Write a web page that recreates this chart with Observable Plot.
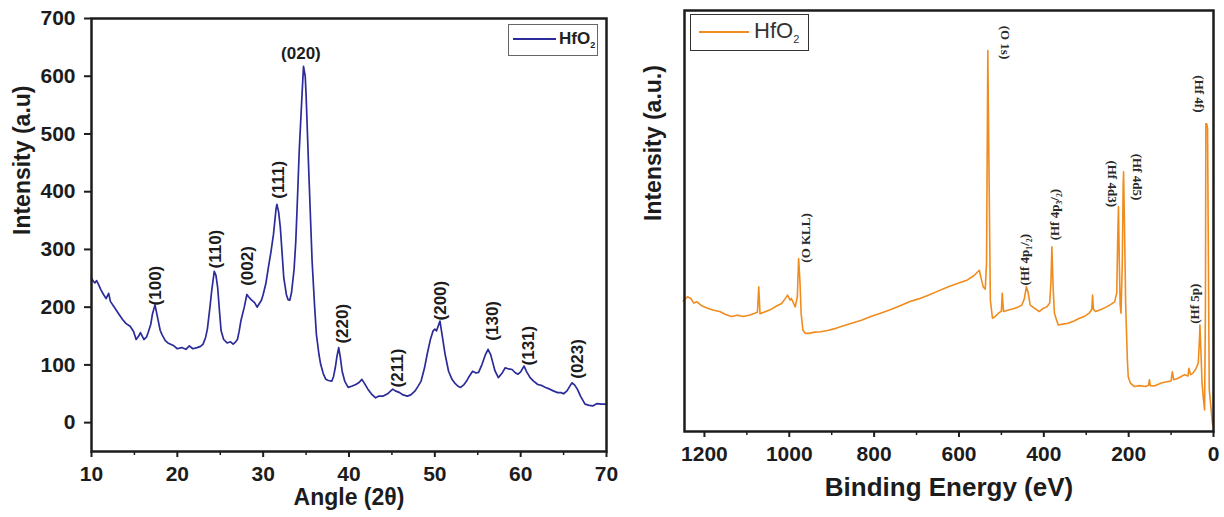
<!DOCTYPE html>
<html><head><meta charset="utf-8">
<script src="https://cdn.jsdelivr.net/npm/d3@7"></script>
<script src="https://cdn.jsdelivr.net/npm/@observablehq/plot@0.6"></script>
<style>
body{margin:0;background:#fff;}
#wrap{position:relative;width:1224px;height:517px;overflow:hidden;font-family:"Liberation Sans",Arial,sans-serif;}
.panel{position:absolute;top:0;width:612px;height:517px;}
.legend{position:absolute;box-sizing:border-box;background:#fff;color:#222;}
.legend .ln{position:absolute;height:2px;}
.legend .lt{position:absolute;white-space:nowrap;}
g[aria-label="x-axis tick label"] text, g[aria-label="y-axis tick label"] text{font-weight:bold;}
</style></head>
<body>
<div id="wrap">
  <div class="panel" id="left" style="left:0"></div>
  <div class="panel" id="right" style="left:612px"></div>
  <div class="legend" style="left:508px;top:24px;width:90px;height:32px;border:1px solid #666;">
    <div class="ln" style="left:4px;top:13px;width:43px;background:#2b2b9a;"></div>
    <div class="lt" style="left:50px;top:4px;font-size:17px;font-weight:bold;">HfO<sub style="font-size:9px">2</sub></div>
  </div>
  <div class="legend" style="left:690px;top:14px;width:119px;height:37px;border:1.5px solid #333;">
    <div class="ln" style="left:8px;top:16px;width:50px;background:#f08c1e;"></div>
    <div class="lt" style="left:63px;top:3px;font-size:22px;color:#333;">HfO<sub style="font-size:11px">2</sub></div>
  </div>
</div>
<script>
// ---------- XRD (left) ----------
const xrdAngle = [10,10.2,10.4,10.6,10.8,11.1,11.4,11.7,12.0,12.2,12.7,13.1,13.6,14.0,14.5,14.9,15.2,15.5,15.7,16.1,16.4,16.6,16.9,17.1,17.4,17.7,18.0,18.2,18.6,18.9,19.6,20.0,20.5,21.0,21.4,21.8,22.3,22.7,23.0,23.3,23.5,23.8,24.0,24.3,24.5,24.7,24.9,25.1,25.4,25.8,26.2,26.5,26.8,27.0,27.2,27.4,27.8,28.1,28.3,28.6,29.0,29.3,29.5,29.8,30.0,30.3,30.6,30.9,31.2,31.5,31.6,31.8,32.0,32.2,32.4,32.7,32.9,33.1,33.3,33.6,33.8,34.0,34.2,34.5,34.7,34.9,35.0,35.3,35.5,35.7,36.0,36.2,36.5,36.7,37.0,37.3,37.6,38.0,38.2,38.4,38.6,38.8,39.0,39.2,39.5,39.9,40.3,40.8,41.2,41.5,41.8,42.2,42.6,43.1,43.5,44.0,44.5,44.8,45.1,45.4,45.9,46.3,46.8,47.2,47.7,48.0,48.4,48.8,49.1,49.5,49.8,50.0,50.2,50.6,50.9,51.2,51.6,52.0,52.3,52.7,53.0,53.4,53.7,54.0,54.4,54.8,55.1,55.5,55.9,56.2,56.5,56.7,57.0,57.4,57.8,58.2,58.6,59.0,59.4,59.7,60.0,60.4,60.7,61.1,61.5,62.0,62.5,62.9,63.4,63.8,64.3,64.7,65.0,65.4,65.8,66.0,66.3,66.6,67.0,67.5,68.0,68.4,68.9,69.4,70.0];
const xrdIntensity = [250,245,242,246,240,230,222,215,224,210,199,190,179,172,167,158,144,150,156,144,148,156,170,188,204,182,160,153,142,138,133,128,130,127,133,128,130,132,136,148,162,200,228,262,255,234,195,159,144,138,140,136,140,144,158,176,200,222,218,213,208,200,205,212,222,240,268,295,326,370,378,365,338,295,251,222,213,212,225,265,314,390,470,560,617,600,568,441,360,280,200,153,118,101,85,75,73,72,80,95,115,130,112,89,72,61,63,66,70,75,68,58,50,43,46,46,50,54,58,55,52,48,46,48,55,62,72,95,118,145,159,162,159,176,147,118,89,75,69,63,61,66,72,80,89,86,87,101,118,127,118,107,90,78,85,95,93,92,86,84,88,98,88,78,72,66,64,61,58,55,52,52,50,55,65,69,65,58,45,32,30,29,33,32,32];
const xrdPeakText  = ["(100)","(110)","(002)","(111)","(220)","(211)","(200)","(130)","(131)","(023)"];
const xrdPeakAngle = [17.5,24.45,28.2,31.8,39.2,45.6,50.7,56.7,60.9,66.6];
const xrdPeakLabelY = [203,267,237,388,137,61,177,142,99,76];
const xrdTopText = ["(020)"];
const xrdTopAngle = [34.4];
const xrdTopY = [639];
const xrdXTicks = [10,20,30,40,50,60,70];
const xrdXMinor = [15,25,35,45,55,65];
const xrdYTicks = [0,100,200,300,400,500,600,700];

// ---------- XPS (right) ----------
const xpsEnergy = [1250,1240,1232,1225,1218,1205,1191,1178,1164,1150,1136,1122,1109,1095,1081,1075,1072,1069,1060,1045,1030,1018,1010,1004,998,995,990,986,981,978,975,972,968,962,954,940,926,910,890,870,853,830,808,785,762,740,717,695,671,648,625,602,580,565,552,548,543,538,535,532,529,526,521,515,507,500,498,495,485,470,460,452,446,441,437,432,425,418,411,402,393,386,383,381,378,375,370,366,355,343,330,316,305,293,287,285,283,278,265,252,242,233,228,226,224,222,220,218,215,213,212,210,207,205,203,201,196,187,175,160,153,151,149,140,130,123,110,100,97,94,85,77,68,60,58,54,49,42,36,33,32,30,27,24,21,19,18,16,14,12,10,7,4,2.5,0];
const xpsIntensity = [31,32,31.6,30.5,30.8,29.8,29.2,28.8,28.5,27.8,27.3,27.6,27.3,27.6,28.1,28.4,34.4,28,28.3,28.9,29.8,30.4,31.5,32.4,31.2,31.6,30.5,29.6,32,41.1,36,28,24.1,23.3,23.3,23.6,23.7,24,24.5,25.2,25.7,26.4,27.3,28.1,28.9,29.8,30.8,31.5,32.4,33.4,34.4,35.2,36,37,38.3,36.5,34.4,33.8,40,90.5,60,31.2,26.9,27.3,28.1,28.6,32.8,28.5,28.8,29.2,29.6,30,31.5,34.4,33,30,29.5,29,28.5,29.2,29.6,30.5,36,43.9,34,28.1,26.5,25.3,25.5,25.7,26.2,26.9,27.3,28.1,29,32.4,29,28.5,29,29.6,30.2,30.8,33,45,53.4,40,30,28.1,40,58,61.7,50,30,23.3,17,13,11.5,10.7,10.9,10.7,11,12.3,10.9,10.8,11.2,11.5,11.8,12,14.2,12.3,12.6,13,13.5,13.2,15,13.5,13.8,14.8,16.2,22,25.3,20,11.5,8,5.1,30,73.1,73.1,72,40,10,6.7,3.5,2,1.2];
const xpsDownText = ["(O 1s)","(Hf 4f)","(Hf 4d3)","(Hf 4d5)"];
const xpsDownE = [492,33,240,179];
const xpsDownY = [96.4,84.6,64.4,66];
const xpsUpText = ["(O KLL)","(Hf 4p\u2081/\u2082)","(Hf 4p\u2083/\u2082)","(Hf 5p)"];
const xpsUpE = [962,445,374,45];
const xpsUpY = [40.1,34.7,45.4,25.6];
const xpsXTicks = [1200,1000,800,600,400,200,0];
const xpsXMinor = [1100,900,700,500,300,100];

const ink = "#1c1c1c";
const sans = "'Liberation Sans', Arial, sans-serif";
const plain = d => String(d);

const xrd = xrdAngle.map((a, i) => ({angle: a, intensity: xrdIntensity[i]}));
const xrdLabels = xrdPeakText.map((t, i) => ({t, x: xrdPeakAngle[i], y: xrdPeakLabelY[i]}));
const xrdTop = xrdTopText.map((t, i) => ({t, x: xrdTopAngle[i], y: xrdTopY[i]}));

const leftChart = Plot.plot({
  width: 612, height: 517,
  marginLeft: 91, marginRight: 6, marginTop: 18, marginBottom: 66,
  x: {domain: [10, 70]},
  y: {domain: [-50, 700]},
  style: {fontFamily: sans, color: ink, background: "transparent", overflow: "visible"},
  marks: [
    Plot.axisX({ticks: xrdXTicks, tickFormat: plain, tickSize: 6, tickPadding: 9, fontSize: 21, fontWeight: "bold", strokeWidth: 2, label: null}),
    Plot.axisX({ticks: xrdXMinor, tickSize: 4, strokeWidth: 1.5, fill: "none", label: null}),
    Plot.axisY({ticks: xrdYTicks, tickFormat: plain, tickSize: 7, tickPadding: 9, fontSize: 21, fontWeight: "bold", strokeWidth: 2, label: null}),
    Plot.line(xrd, {x: "angle", y: "intensity", stroke: "#2b2b9a", strokeWidth: 1.7}),
    Plot.frame({stroke: ink, strokeWidth: 2.5}),
    Plot.text(xrdLabels, {x: "x", y: "y", text: "t", rotate: -90, textAnchor: "start", fontSize: 17, fontWeight: "bold", fill: ink}),
    Plot.text(xrdTop, {x: "x", y: "y", text: "t", fontSize: 17, fontWeight: "bold", fill: ink}),
    Plot.text(["Angle (2\u03b8)"], {text: d => d, frameAnchor: "bottom", dy: 53, fontSize: 23, fontWeight: "bold", fill: ink}),
    Plot.text(["Intensity (a.u)"], {text: d => d, frameAnchor: "left", dx: -69, rotate: -90, fontSize: 23, fontWeight: "bold", fill: ink})
  ]
});
document.getElementById("left").append(leftChart);

const xps = xpsEnergy.map((e, i) => ({e, v: xpsIntensity[i]}));
const xpsDown = xpsDownText.map((t, i) => ({t, x: xpsDownE[i], y: xpsDownY[i]}));
const xpsUp = xpsUpText.map((t, i) => ({t, x: xpsUpE[i], y: xpsUpY[i]}));

const rightChart = Plot.plot({
  width: 612, height: 517,
  marginLeft: 72, marginRight: 11, marginTop: 10, marginBottom: 86,
  x: {domain: [1247, 0]},
  y: {domain: [0, 100], axis: null},
  style: {fontFamily: sans, color: ink, background: "transparent", overflow: "visible"},
  marks: [
    Plot.axisX({ticks: xpsXTicks, tickFormat: plain, tickSize: 6, tickPadding: 9, fontSize: 21, fontWeight: "bold", strokeWidth: 2, label: null}),
    Plot.axisX({ticks: xpsXMinor, tickSize: 4, strokeWidth: 1.5, fill: "none", label: null}),
    Plot.line(xps, {x: "e", y: "v", stroke: "#f08c1e", strokeWidth: 1.6}),
    Plot.frame({stroke: ink, strokeWidth: 2.5}),
    Plot.text(xpsDown, {x: "x", y: "y", text: "t", rotate: 90, textAnchor: "start", fontSize: 13, fontWeight: "bold", fontFamily: "'Liberation Serif', 'DejaVu Serif', serif", fill: "#2a2a2a"}),
    Plot.text(xpsUp, {x: "x", y: "y", text: "t", rotate: -90, textAnchor: "start", fontSize: 13, fontWeight: "bold", fontFamily: "'Liberation Serif', 'DejaVu Serif', serif", fill: "#2a2a2a"}),
    Plot.text(["Binding Energy (eV)"], {text: d => d, frameAnchor: "bottom", dy: 64, fontSize: 26, fontWeight: "bold", fill: ink}),
    Plot.text(["Intensity (a.u.)"], {text: d => d, frameAnchor: "left", dx: -31, rotate: -90, fontSize: 23, fontWeight: "bold", fill: ink})
  ]
});
document.getElementById("right").append(rightChart);
</script>
</body></html>
